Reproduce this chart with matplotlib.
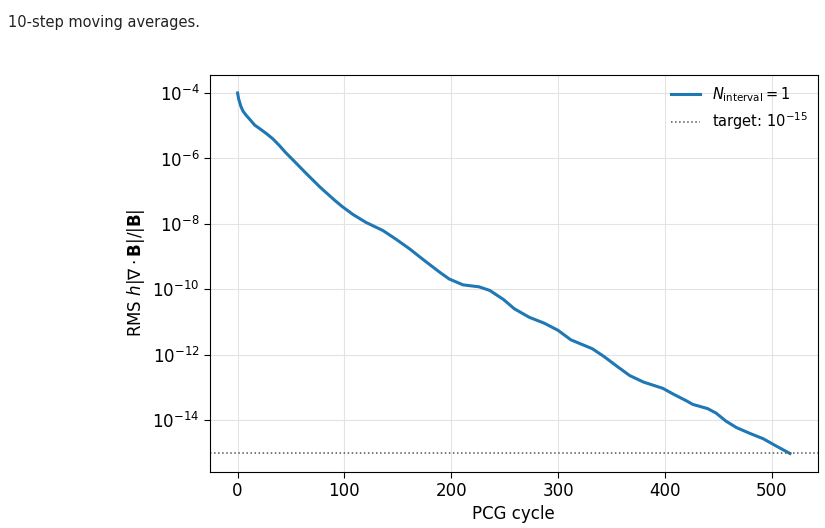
import matplotlib
matplotlib.use('Agg')
import matplotlib.pyplot as plt
from matplotlib.ticker import FixedLocator, NullLocator
import numpy as np

# PCG cycle and log10 of RMS divergence (10-step moving average)
cycle = [0, 1, 3, 5, 8, 11, 16, 22, 27, 33, 39, 45, 52, 64, 77, 91, 98, 108,
         120, 136, 148, 161, 173, 189, 198, 211, 226, 236, 249, 259, 273, 287,
         300, 312, 332, 343, 354, 367, 380, 398, 408, 420, 426, 440, 448, 457,
         467, 479, 492, 504, 517]
log_div = [-4.00, -4.18, -4.40, -4.55, -4.68, -4.79, -4.98, -5.12, -5.24, -5.40,
           -5.60, -5.82, -6.05, -6.45, -6.87, -7.28, -7.47, -7.71, -7.95, -8.20,
           -8.46, -8.76, -9.07, -9.47, -9.68, -9.86, -9.92, -10.03, -10.31,
           -10.59, -10.85, -11.03, -11.25, -11.54, -11.81, -12.05, -12.32, -12.63,
           -12.83, -13.02, -13.20, -13.40, -13.51, -13.64, -13.78, -14.02, -14.22,
           -14.39, -14.56, -14.78, -15.01]
target = 1e-15
ytick_vals = [1e-4, 1e-6, 1e-8, 1e-10, 1e-12, 1e-14]
xtick_vals = [0, 100, 200, 300, 400, 500]

div = 10.0 ** np.array(log_div)

fig = plt.figure(figsize=(8.25, 5.28), dpi=100)
ax = fig.add_axes([0.2545, 0.107, 0.7365, 0.751])

ax.plot(cycle, div, color='#1f77b4', lw=2.2, label=r'$N_{\rm interval} = 1$')
ax.axhline(target, color='#555555', ls=':', lw=1.1, label=r'target: $10^{-15}$')
ax.set_yscale('log')

ax.yaxis.set_major_locator(FixedLocator(ytick_vals))
ax.yaxis.set_minor_locator(NullLocator())
ax.set_xticks(xtick_vals)
ax.grid(True, color='#e3e3e3', lw=0.8)
ax.tick_params(labelsize=12, length=4)

ax.set_xlabel('PCG cycle', fontsize=12)
ax.set_ylabel(r'RMS $h|\nabla\cdot\mathbf{B}|/|\mathbf{B}|$', fontsize=12)
ax.legend(loc='upper right', frameon=False, fontsize=10.5, borderaxespad=0.3,
          labelspacing=0.45)

fig.text(0.01, 0.957, '10-step moving averages.', fontsize=10.5, ha='left',
         va='center', color='#222222')

fig.savefig('out.png', dpi=100)
